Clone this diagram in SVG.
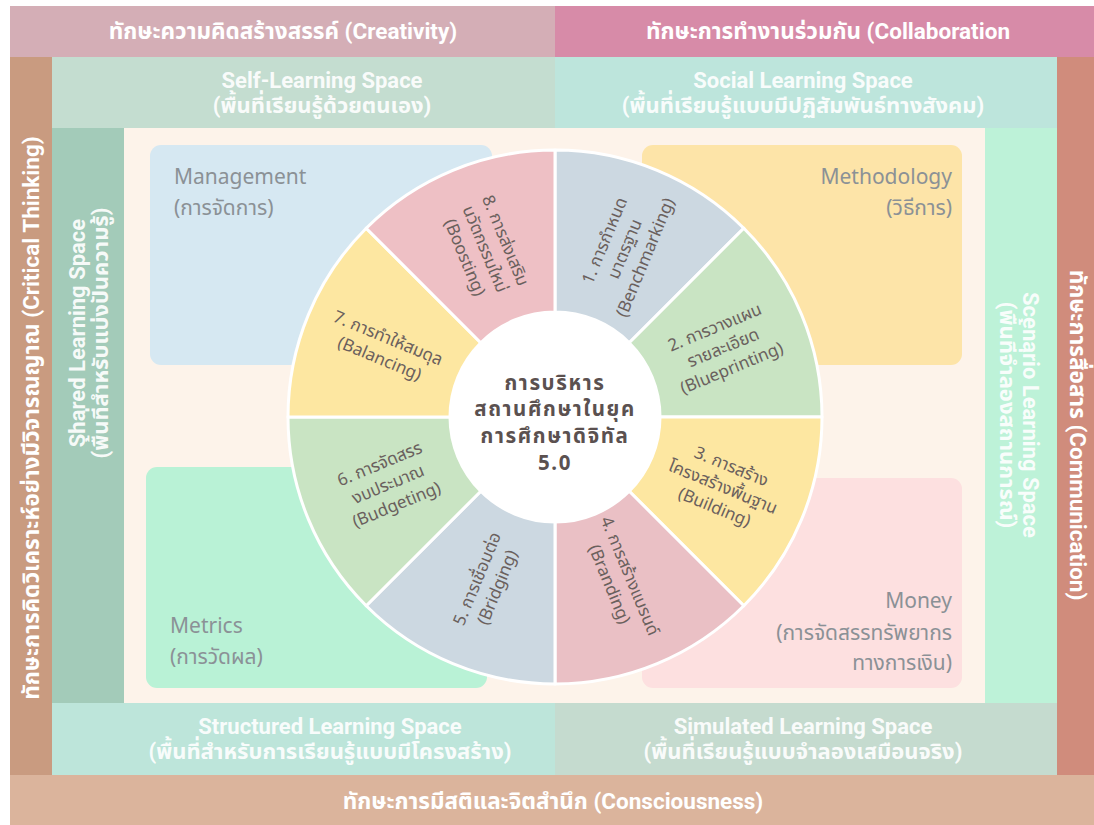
<svg xmlns="http://www.w3.org/2000/svg" width="1094" height="825" viewBox="0 0 1094 825">
<style>
.band{font-family:"Roboto","Noto Sans","Noto Sans Thai",sans-serif;font-weight:700;font-size:22px;fill:#ffffff;fill-opacity:0.92;text-anchor:middle}
.skill{font-family:"Roboto","Noto Sans","Noto Sans Thai",sans-serif;font-weight:700;font-size:22.5px;fill:#ffffff;text-anchor:middle}
.box{font-family:"Noto Sans","Noto Sans Thai",sans-serif;font-size:21px;fill:#8b9196}
.seg{font-family:"Noto Sans","Noto Sans Thai",sans-serif;font-size:17px;fill:#6a605d;text-anchor:middle}
.center{font-family:"Noto Sans","Noto Sans Thai",sans-serif;font-weight:700;font-size:20.5px;fill:#5b5150;text-anchor:middle;letter-spacing:1.6px}
.sep{stroke:#ffffff;stroke-width:3;stroke-linejoin:round}
</style>
<rect x="0" y="0" width="1094" height="825" fill="#ffffff"/>

<g id="skills">
<rect x="10" y="6" width="545" height="51" fill="#d4aeb6"/>
<rect x="555" y="6" width="539" height="51" fill="#d78ba8"/>
<rect x="10" y="57" width="42" height="718" fill="#c99b80"/>
<rect x="1057" y="57" width="37" height="718" fill="#d08c7c"/>
<rect x="10" y="775" width="1084" height="50" fill="#dbb49c"/>
<text class="skill" x="283" y="39">ทักษะความคิดสร้างสรรค์ (Creativity)</text>
<text class="skill" x="828" y="39">ทักษะการทำงานร่วมกัน (Collaboration</text>
<text class="skill" transform="translate(39,418) rotate(-90)">ทักษะการคิดวิเคราะห์อย่างมีวิจารณญาณ (Critical Thinking)</text>
<text class="skill" transform="translate(1070,435) rotate(90)">ทักษะการสื่อสาร (Communication)</text>
<text class="skill" x="553" y="809">ทักษะการมีสติและจิตสำนึก (Consciousness)</text>
</g>

<g id="spaces">
<rect x="52" y="57" width="503" height="71" fill="#c4ddd0"/>
<rect x="555" y="57" width="502" height="71" fill="#bde5dc"/>
<rect x="52" y="128" width="72" height="575" fill="#a3cbb9"/>
<rect x="985" y="128" width="72" height="575" fill="#bdf2d8"/>
<rect x="52" y="703" width="503" height="72" fill="#bde5da"/>
<rect x="555" y="703" width="502" height="72" fill="#c5dbcf"/>
<text class="band" x="322" y="88">Self-Learning Space</text>
<text class="band" x="322" y="113">(พื้นที่เรียนรู้ด้วยตนเอง)</text>
<text class="band" x="803" y="88">Social Learning Space</text>
<text class="band" x="803" y="113">(พื้นที่เรียนรู้แบบมีปฏิสัมพันธ์ทางสังคม)</text>
<text class="band" transform="translate(85,333) rotate(-90)">Shared Learning Space</text>
<text class="band" transform="translate(108,333) rotate(-90)">(พื้นที่สำหรับแบ่งปันความรู้)</text>
<text class="band" transform="translate(1023,415) rotate(90)">Scenario Learning Space</text>
<text class="band" transform="translate(1000,415) rotate(90)">(พื้นที่จำลองสถานการณ์)</text>
<text class="band" x="330" y="734">Structured Learning Space</text>
<text class="band" x="330" y="759">(พื้นที่สำหรับการเรียนรู้แบบมีโครงสร้าง)</text>
<text class="band" x="803" y="734">Simulated Learning Space</text>
<text class="band" x="803" y="759">(พื้นที่เรียนรู้แบบจำลองเสมือนจริง)</text>
</g>

<rect x="124" y="128" width="861" height="575" fill="#fdf3ea"/>

<g id="management">
<rect x="150" y="145" width="342" height="220" rx="11" fill="#d6e8f2"/>
<text class="box" x="174" y="184">Management</text>
<text class="box" x="174" y="215">(การจัดการ)</text>
</g>
<g id="methodology">
<rect x="642" y="145" width="320" height="220" rx="11" fill="#fde4a8"/>
<text class="box" x="952" y="184" text-anchor="end">Methodology</text>
<text class="box" x="952" y="215" text-anchor="end">(วิธีการ)</text>
</g>
<g id="metrics">
<rect x="146" y="467" width="341" height="221" rx="11" fill="#b9f2d6"/>
<text class="box" x="170" y="633">Metrics</text>
<text class="box" x="170" y="664">(การวัดผล)</text>
</g>
<g id="money">
<rect x="642" y="478" width="320" height="210" rx="11" fill="#fde0e0"/>
<text class="box" x="952" y="608" text-anchor="end">Money</text>
<text class="box" x="952" y="640" text-anchor="end">(การจัดสรรทรัพยากร</text>
<text class="box" x="952" y="670" text-anchor="end">ทางการเงิน)</text>
</g>

<g id="wheel">
<g id="seg1">
<path class="sep" fill="#ccd8e1" d="M555,312 L555,150 A267,267 0 0 1 743.8,228.2 L629.25,342.75 A105,105 0 0 0 555,312 Z"/>
<text class="seg" transform="translate(624.6,248.9) rotate(-67.5)"><tspan x="0" y="-16">1. การกำหนด</tspan><tspan x="0" y="6">มาตรฐาน</tspan><tspan x="0" y="28">(Benchmarking)</tspan></text>
</g>
<g id="seg2">
<path class="sep" fill="#c9e4c3" d="M629.25,342.75 L743.8,228.2 A267,267 0 0 1 822,417 L660,417 A105,105 0 0 0 629.25,342.75 Z"/>
<text class="seg" transform="translate(723.1,347.4) rotate(-22.5)"><tspan x="0" y="-16">2. การวางแผน</tspan><tspan x="0" y="6">รายละเอียด</tspan><tspan x="0" y="28">(Blueprinting)</tspan></text>
</g>
<g id="seg3">
<path class="sep" fill="#fde7a1" d="M660,417 L822,417 A267,267 0 0 1 743.8,605.8 L629.25,491.25 A105,105 0 0 0 660,417 Z"/>
<text class="seg" transform="translate(723.1,486.6) rotate(22.5)"><tspan x="0" y="-16">3. การสร้าง</tspan><tspan x="0" y="6">โครงสร้างพื้นฐาน</tspan><tspan x="0" y="28">(Building)</tspan></text>
</g>
<g id="seg4">
<path class="sep" fill="#eac0c5" d="M629.25,491.25 L743.8,605.8 A267,267 0 0 1 555,684 L555,522 A105,105 0 0 0 629.25,491.25 Z"/>
<text class="seg" transform="translate(620,580) rotate(67.5)"><tspan x="0" y="-5">4. การสร้างแบรนด์</tspan><tspan x="0" y="17">(Branding)</tspan></text>
</g>
<g id="seg5">
<path class="sep" fill="#ccd8e1" d="M555,522 L555,684 A267,267 0 0 1 366.2,605.8 L480.75,491.25 A105,105 0 0 0 555,522 Z"/>
<text class="seg" transform="translate(487,583) rotate(-67.5)"><tspan x="0" y="-5">5. การเชื่อมต่อ</tspan><tspan x="0" y="17">(Bridging)</tspan></text>
</g>
<g id="seg6">
<path class="sep" fill="#c9e4c3" d="M480.75,491.25 L366.2,605.8 A267,267 0 0 1 288,417 L450,417 A105,105 0 0 0 480.75,491.25 Z"/>
<text class="seg" transform="translate(388,484) rotate(-22.5)"><tspan x="0" y="-16">6. การจัดสรร</tspan><tspan x="0" y="6">งบประมาณ</tspan><tspan x="0" y="28">(Budgeting)</tspan></text>
</g>
<g id="seg7">
<path class="sep" fill="#fde7a1" d="M450,417 L288,417 A267,267 0 0 1 366.2,228.2 L480.75,342.75 A105,105 0 0 0 450,417 Z"/>
<text class="seg" transform="translate(384,348) rotate(22.5)"><tspan x="0" y="-5">7. การทำให้สมดุล</tspan><tspan x="0" y="17">(Balancing)</tspan></text>
</g>
<g id="seg8">
<path class="sep" fill="#eec0c5" d="M480.75,342.75 L366.2,228.2 A267,267 0 0 1 555,150 L555,312 A105,105 0 0 0 480.75,342.75 Z"/>
<text class="seg" transform="translate(485.4,248.9) rotate(67.5)"><tspan x="0" y="-16">8. การส่งเสริม</tspan><tspan x="0" y="6">นวัตกรรมใหม่</tspan><tspan x="0" y="28">(Boosting)</tspan></text>
</g>
<g id="hub">
<circle cx="555" cy="417" r="105" fill="#ffffff"/>
<text class="center"><tspan x="555" y="390">การบริหาร</tspan><tspan x="555" y="416">สถานศึกษาในยุค</tspan><tspan x="555" y="443">การศึกษาดิจิทัล</tspan><tspan x="555" y="470">5.0</tspan></text>
</g>
</g>
<g id="connectors"/>
</svg>
